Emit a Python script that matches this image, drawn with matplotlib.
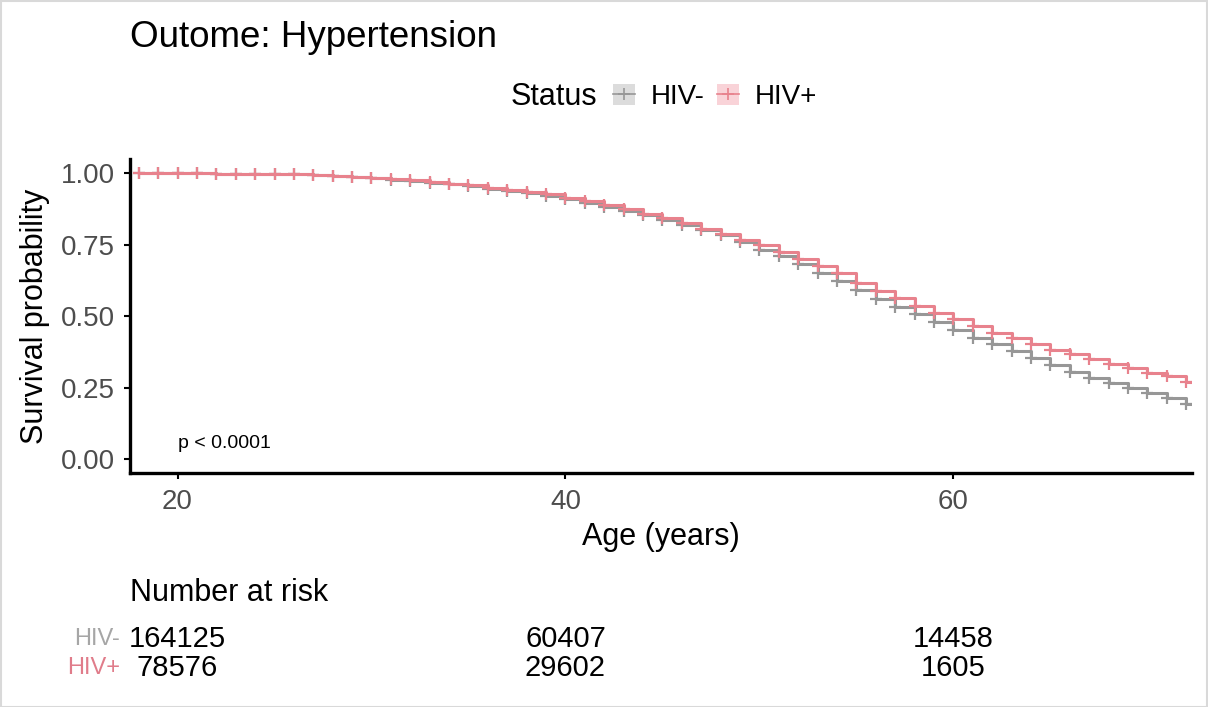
import matplotlib
matplotlib.use('Agg')
import matplotlib.pyplot as plt
from matplotlib.lines import Line2D
from matplotlib.patches import Patch, Rectangle
from matplotlib.transforms import blended_transform_factory

plt.rcParams['font.family'] = ['Liberation Sans', 'DejaVu Sans']

# data
ages = list(range(18, 73))
end_age = 72.3
surv_neg = [1.000, 0.9995, 0.999, 0.9985, 0.998, 0.9975, 0.997, 0.996, 0.995, 0.992,
            0.989, 0.985, 0.981, 0.976, 0.972, 0.966, 0.960, 0.953, 0.945, 0.937,
            0.929, 0.919, 0.908, 0.896, 0.882, 0.867, 0.852, 0.836, 0.818, 0.800,
            0.784, 0.759, 0.732, 0.709, 0.681, 0.652, 0.622, 0.590, 0.561, 0.532,
            0.506, 0.478, 0.451, 0.425, 0.401, 0.377, 0.354, 0.329, 0.305, 0.284,
            0.265, 0.247, 0.230, 0.212, 0.191]
surv_pos = [1.000, 0.9995, 0.999, 0.9985, 0.998, 0.9975, 0.997, 0.996, 0.995, 0.992,
            0.990, 0.986, 0.983, 0.978, 0.975, 0.969, 0.963, 0.957, 0.949, 0.942,
            0.934, 0.925, 0.914, 0.902, 0.887, 0.873, 0.858, 0.843, 0.825, 0.806,
            0.787, 0.766, 0.748, 0.724, 0.701, 0.675, 0.649, 0.617, 0.588, 0.564,
            0.535, 0.511, 0.488, 0.465, 0.441, 0.422, 0.401, 0.383, 0.366, 0.349,
            0.332, 0.317, 0.302, 0.290, 0.268]
groups = ['HIV-', 'HIV+']
risk_times = [20, 40, 60]
risk_neg = [164125, 60407, 14458]
risk_pos = [78576, 29602, 1605]

col_neg = '#979797'
col_pos = '#E8828D'
key_neg = '#DCDCDC'
key_pos = '#F9D3D8'
lbl_neg = '#A6A6A6'
lbl_pos = '#E07C8A'

W, H = 1208, 707
fig = plt.figure(figsize=(W / 100, H / 100), dpi=100)
ax = fig.add_axes([130 / W, 1 - 473.4 / H, 1062 / W, 314.7 / H])

for surv, col in [(surv_neg, col_neg), (surv_pos, col_pos)]:
    ax.step(ages + [end_age], surv + [surv[-1]], where='post', color=col, lw=2.2)
    ax.plot(ages, surv, ls='none', marker='+', ms=8, mew=1.6, color=col)

ax.set_xlim(17.55, end_age)
ax.set_ylim(-0.05, 1.05)
ax.set_xticks([20, 40, 60])
ax.set_yticks([0, 0.25, 0.5, 0.75, 1.0])
ax.set_yticklabels(['%.2f' % v for v in [0, 0.25, 0.5, 0.75, 1.0]])
for s in ['top', 'right']:
    ax.spines[s].set_visible(False)
for s in ['left', 'bottom']:
    ax.spines[s].set_linewidth(2.4)
ax.tick_params(length=4.5, width=1.5, color='black', labelsize=20,
               labelcolor='#4D4D4D', pad=6.5)

ax.text(20, 0.056, 'p < 0.0001', fontsize=14, ha='left', va='center')

ax.set_ylabel('Survival probability', fontsize=22)
ax.yaxis.label.set_va('center')
ax.yaxis.set_label_coords(-0.0895, 0.5)
ax.set_xlabel('Age (years)', fontsize=22)
ax.xaxis.label.set_va('center')
ax.xaxis.set_label_coords(0.5, -0.202)

fig.text(130 / W, 1 - 47 / H, 'Outome: Hypertension', fontsize=26.5, va='baseline')

# legend
fig.text(511 / W, 1 - 97 / H, 'Status', fontsize=22, va='center')
handles = [(Patch(facecolor=key_neg, edgecolor='none'),
            Line2D([], [], color=col_neg, lw=1.2, marker='+', ms=8, mew=1.2)),
           (Patch(facecolor=key_pos, edgecolor='none'),
            Line2D([], [], color=col_pos, lw=1.2, marker='+', ms=8, mew=1.2))]
fig.legend(handles, groups, loc='center left', bbox_to_anchor=(613 / W, 1 - 97 / H),
           ncol=2, frameon=False, fontsize=20, handlelength=0.8, handleheight=0.8,
           handletextpad=0.55, columnspacing=0.45, borderpad=0, borderaxespad=0)

# risk table
tr = blended_transform_factory(ax.transData, fig.transFigure)
fig.text(130 / W, 1 - 593 / H, 'Number at risk', fontsize=22, va='center')
rows = [(risk_neg, groups[0], lbl_neg, 639), (risk_pos, groups[1], lbl_pos, 668)]
for counts, name, col, ypx in rows:
    fig.text(120 / W, 1 - ypx / H, name, color=col, fontsize=17, ha='right', va='center')
    for t, n in zip(risk_times, counts):
        ax.text(t, 1 - ypx / H, str(n), transform=tr, ha='center', va='center', fontsize=21)

fig.add_artist(Rectangle((0.5 / W, 0.5 / H), 1 - 1.5 / W, 1 - 1.5 / H,
                         transform=fig.transFigure, fill=False,
                         edgecolor='#D9D9D9', lw=1.5))

fig.savefig('out.png', dpi=100)
